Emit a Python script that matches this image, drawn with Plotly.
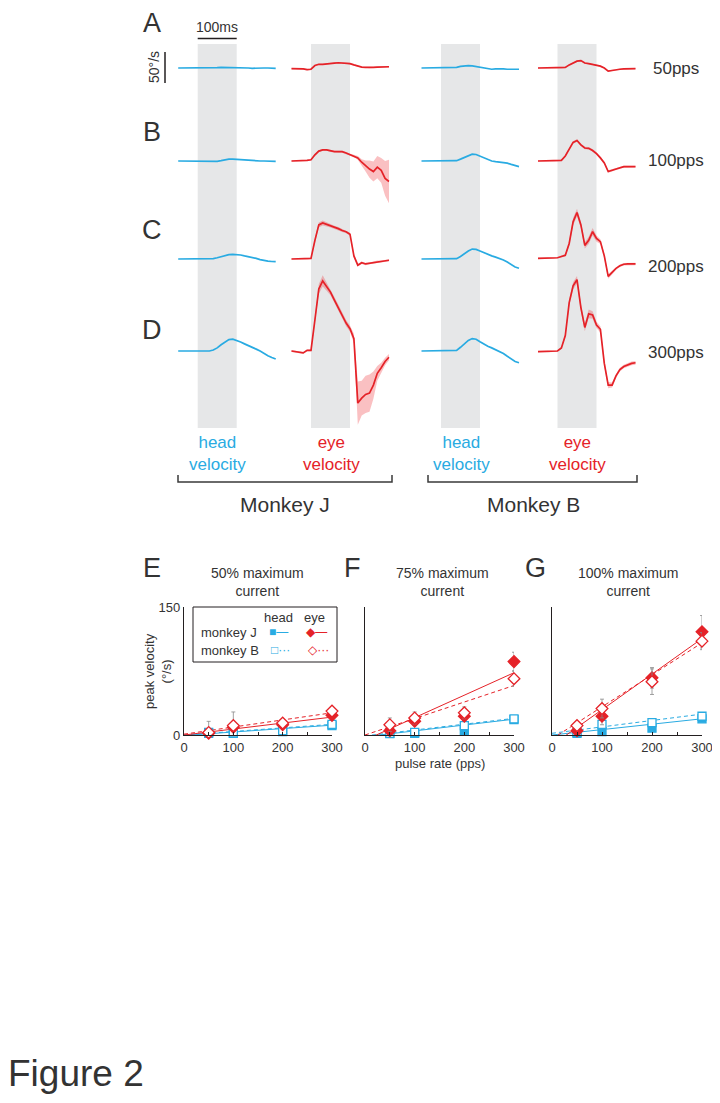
import plotly.graph_objects as go

# page body adds an 8px offset; the figure fills the rest of the 720x1103 window
OFF = 8
W, H = 720 - OFF, 1103 - OFF
FONT = "Liberation Sans, Arial, DejaVu Sans, sans-serif"
TXT = "#333333"
AX = "#231f20"
BLUE = "#29abe2"
RED = "#e52228"
BAND = "rgba(237,28,36,0.28)"
GRAY = "#e6e7e8"
ERR = "#8a8a8a"

# ---------------- time courses (deg/s), sampled every 10 ms ----------------
T_MS = [-50, -40, -30, -20, -10, 0, 10, 20, 30, 40, 50, 60, 70, 80, 90, 100,
        110, 120, 130, 140, 150, 160, 170, 180, 190, 200]

J_HEAD_50 = [0, 0, 0, 0, 0, -0.5, -0.5, 0, 0, 0, 0.5, 1, 1, 1, 0.5, 0, 0, 0, 0, -0.5, 0, 0, 0, 0, 0, -0.5]
J_HEAD_100 = [0, 0, 0, 0, 0, 0, 0, 0, -1, -1, -0.5, 0.5, 2, 3, 3, 2.5, 2, 1, 0.5, 0, 0, 0, 0, 0, -0.5, -0.5]
J_HEAD_200 = [0, 0, 0, 0, 0, 0, 0, 0, 0, 0.5, 2, 4, 6, 7, 7.5, 7.3, 6.5, 5, 4, 2.5, 1, -1, -2.5, -3.3, -4, -4.3]
J_HEAD_300 = [0, 0, 0, 0, 0, 0, 0, 0, 0, 1.5, 5, 10, 15, 18.5, 19, 17, 14.5, 11.5, 9, 6, 3, 0, -4, -7.5, -10.5, -13]

J_EYE_50 = [-1, -1, -1.5, -1.5, -2.5, -2, 4, 6, 6, 7, 7.5, 8, 8.5, 8, 8, 7, 5, 3, 1.5, 1, 0.5, 1, 1.5, 1.5, 2, 2]
J_EYE_100 = [0, 0, 0, 0.5, 1, 2, 10, 16, 18, 18, 16, 15, 15, 15, 13, 10, 8, 5, -2, -8, -13, -17, -10, -15, -28, -33]
J_EYE_200 = [0, 0, 0.5, 0, 0, 1, 30, 55, 58, 56, 54, 51, 49, 46, 44, 40, 5, -10, -6, -8, -7, -5, -4, -4, -3, -2]
J_EYE_300 = [0, -1, -2, -3, 1, 1, 50, 100, 113, 104, 95, 82, 70, 58, 45, 36, 20, -84, -76, -70, -68, -55, -36, -27, -17, -10]

J_EYE_50_SEM = [1, 1, 1, 1, 1, 1, 1, 1, 1, 1, 1, 1, 1, 1, 1, 1, 1, 1, 1, 1, 1, 1, 1, 1, 1, 1]
J_EYE_100_SEM = [1, 1, 1, 1, 1, 1, 1.5, 1.5, 1.5, 1.5, 1.5, 1.5, 1.5, 1.5, 1.5, 1.5, 2, 3, 5, 9, 14, 16, 18, 20, 28, 35]
J_EYE_200_SEM = [1, 1, 1, 1, 1, 1, 3, 4, 4, 3, 3, 2.5, 2.5, 2.5, 2.5, 2.5, 3, 2, 2, 2, 1.5, 1.5, 1.5, 1.5, 1.5, 1.5]
J_EYE_300_SEM = [1.5, 1.5, 1.5, 1.5, 1.5, 1.5, 5, 8, 9, 7, 5, 5, 5, 5, 5, 5, 8, 35, 28, 30, 30, 22, 12, 8, 6, 5]

B_HEAD_50 = [0, 0, 0, 0, 0, 0, 0, 0, 0, 1, 2.5, 3.5, 3.7, 3.5, 2.5, 1.5, 0, -1.5, -2, -1.5, -1, -1.5, -2, -2, -2, -2]
B_HEAD_100 = [0, 0, 0, 0, 0, 0, 0, 0, 0, 0.5, 3, 6, 9, 11, 10.5, 8, 5, 2, 0, -1, -1.5, -2, -3.5, -5.5, -7.5, -9]
B_HEAD_200 = [0, 0, 0, 0, 0, 0, 0, 0, 0, 0.5, 4, 9, 13, 16, 15.5, 13, 10, 7.5, 5, 3, 1, -1.5, -5, -9, -13, -15]
B_HEAD_300 = [0, 0, 0, 0, 0, 0, 0, 0, 0, 1, 6, 12, 17, 20, 19, 15, 11, 7.5, 5, 2, -1, -4, -8.5, -13, -17, -19]

B_EYE_50 = [0, 0, 0, 0, 0, 0, 0, 1, 5, 8, 11, 12, 8, 7, 6, 5, 3, 0, -5, -4, -2.5, -2, -1.5, -1, -1, -1]
B_EYE_100 = [0, 0, 0, 0, 0, 0, 1, 8, 20, 30, 33, 26, 21, 20.5, 17, 12, 5, -3, -17, -15, -12, -10, -9, -9, -9, -9]
B_EYE_200 = [1, 1, 1, 1, 1, 2, 4, 6, 25, 60, 75, 55, 22, 30, 44, 33, 28, 5, -28, -22, -15, -11, -8.5, -8, -8, -8]
B_EYE_300 = [-1, -1, -1, -1, -1, 0, 5, 25, 78, 105, 115, 70, 38, 60, 58, 42, 35, -20, -55, -55, -40, -30, -25, -22, -20, -19]

B_EYE_50_SEM = [1, 1, 1, 1, 1, 1, 1, 1, 1, 1, 1, 1, 1, 1, 1, 1, 1, 1, 1, 1, 1, 1, 1, 1, 1, 1]
B_EYE_100_SEM = [1, 1, 1, 1, 1, 1, 1, 1.5, 2, 2, 2, 2, 2, 2, 2, 2, 2, 2, 2, 2, 1.5, 1.5, 1.5, 1.5, 1.5, 1.5]
B_EYE_200_SEM = [1, 1, 1, 1, 1, 1, 1.5, 2, 4, 6, 6, 5, 5, 6, 6, 5, 4, 4, 4, 3, 2.5, 2, 2, 2, 2, 2]
B_EYE_300_SEM = [1, 1, 1, 1, 1, 1, 1.5, 3, 5, 6, 6, 6, 6, 7, 6, 5, 5, 5, 5, 4, 3, 3, 3, 3, 3, 3]

ROW_LETTERS = ["A", "B", "C", "D"]
RATE_LABELS = ["50pps", "100pps", "200pps", "300pps"]

# ---------------- peak velocity summary (deg/s) ----------------
PULSE_RATES = [50, 100, 200, 300]
FIT_X = [0, 300]

E_HEAD_J = [2, 2, 4, 11]
E_HEAD_B = [3, 2.5, 5, 12.5]
E_EYE_J = [2, 9, 12, 23]
E_EYE_B = [3, 11, 14, 28]
E_EYE_J_ERR = [2, 3, 2, 4]
E_EYE_B_ERR = [13, 16, 3, 5]
E_HEAD_ERR = [1, 1, 1, 1]
E_FIT_HEAD_J = [-0.5, 11.5]
E_FIT_HEAD_B = [0, 12.5]
E_FIT_EYE_J = [0, 21]
E_FIT_EYE_B = [1, 26]

F_HEAD_J = [1.5, 2, 5, 18]
F_HEAD_B = [2, 3, 11, 19]
F_EYE_J = [5, 16, 22, 86]
F_EYE_B = [12, 20, 26, 66]
F_EYE_J_ERR = [3, 5, 5, 11]
F_EYE_B_ERR = [8, 7, 7, 9]
F_HEAD_ERR = [1, 1, 2, 2]
F_FIT_HEAD_J = [-2, 18.5]
F_FIT_HEAD_B = [-1, 19.5]
F_FIT_EYE_J = [-6, 73]
F_FIT_EYE_B = [0, 58]

G_HEAD_J = [2, 4, 8, 19]
G_HEAD_B = [3, 12.5, 14.5, 22]
G_EYE_J = [5, 22, 67, 121]
G_EYE_B = [11, 31, 62.5, 110]
G_EYE_J_ERR = [3, 10, 12, 19]
G_EYE_B_ERR = [4, 11, 15, 10]
G_HEAD_ERR = [1, 2, 3, 2]
G_FIT_HEAD_J = [0, 19]
G_FIT_HEAD_B = [2, 24.5]
G_FIT_EYE_J = [-12, 113]
G_FIT_EYE_B = [-4.5, 108]

X_TICKS = [0, 50, 100, 150, 200, 250, 300]
X_TICK_TEXT = ["0", "", "100", "", "200", "", "300"]
PANEL_TITLES = ["50% maximum<br>current", "75% maximum<br>current", "100% maximum<br>current"]

# ---------------- geometry (window pixels) ----------------
ROW_BASE_PX = [68, 161, 259, 351]
RATE_LABEL_PX = [68, 161, 266, 353]
LETTER_PX = [23, 132, 230, 330]
COL_T0_PX = [197.7, 311, 441, 557.5]
PX_PER_MS = 0.39
PX_PER_DEG = 0.62
ROW_HALF_RANGE = [90, 130, 130, 130]


def fx(px):
    return (px - OFF) / W


def fy(py):
    return 1 - (py - OFF) / H


fig = go.Figure()
layout = {}
shapes = []
annotations = []


def ann(text, x, y, size, color=TXT, **kw):
    d = dict(text=text, x=fx(x), y=fy(y), xref="paper", yref="paper", showarrow=False,
             xanchor="center", yanchor="middle",
             font=dict(family=FONT, size=size, color=color))
    d.update(kw)
    annotations.append(d)


columns = [
    (BLUE, [J_HEAD_50, J_HEAD_100, J_HEAD_200, J_HEAD_300], None),
    (RED, [J_EYE_50, J_EYE_100, J_EYE_200, J_EYE_300],
     [J_EYE_50_SEM, J_EYE_100_SEM, J_EYE_200_SEM, J_EYE_300_SEM]),
    (BLUE, [B_HEAD_50, B_HEAD_100, B_HEAD_200, B_HEAD_300], None),
    (RED, [B_EYE_50, B_EYE_100, B_EYE_200, B_EYE_300],
     [B_EYE_50_SEM, B_EYE_100_SEM, B_EYE_200_SEM, B_EYE_300_SEM]),
]

for r in range(4):
    for c in range(4):
        i = r * 4 + c + 1
        sfx = "" if i == 1 else str(i)
        xr, yr = "x" + sfx, "y" + sfx
        t0 = COL_T0_PX[c]
        yb = ROW_BASE_PX[r]
        R = ROW_HALF_RANGE[r]
        layout["xaxis" + sfx] = dict(domain=[fx(t0 - 52 * PX_PER_MS), fx(t0 + 202 * PX_PER_MS)],
                                     range=[-52, 202], visible=False, anchor=yr, fixedrange=True,
                                     automargin=False)
        layout["yaxis" + sfx] = dict(domain=[fy(yb + R * PX_PER_DEG), fy(yb - R * PX_PER_DEG)],
                                     range=[-R, R], visible=False, anchor=xr, fixedrange=True,
                                     automargin=False)
        color, rows, sems = columns[c]
        vals = rows[r]
        if sems is not None:
            sem = sems[r]
            up = [v + s for v, s in zip(vals, sem)]
            lo = [v - s for v, s in zip(vals, sem)]
            fig.add_trace(go.Scatter(x=T_MS + T_MS[::-1], y=up + lo[::-1], fill="toself",
                                     fillcolor=BAND, line=dict(width=0), mode="lines",
                                     hoverinfo="skip", xaxis=xr, yaxis=yr))
        fig.add_trace(go.Scatter(x=T_MS, y=vals, mode="lines",
                                 line=dict(color=color, width=1.7),
                                 xaxis=xr, yaxis=yr))
        if r == 0:
            # stimulation window (0-100 ms)
            shapes.append(dict(type="rect", xref=xr, yref="paper", x0=0, x1=100,
                               y0=fy(428), y1=fy(44), fillcolor=GRAY, line=dict(width=0),
                               layer="below"))

# scale bars
shapes.append(dict(type="line", xref="x", yref="paper", x0=0, x1=100, y0=fy(38.5), y1=fy(38.5),
                   line=dict(color=AX, width=1.5)))
annotations.append(dict(text="100ms", x=50, y=fy(27), xref="x", yref="paper", showarrow=False,
                        xanchor="center", yanchor="middle",
                        font=dict(family=FONT, size=14, color=TXT)))
shapes.append(dict(type="line", xref="paper", yref="y", x0=fx(165), x1=fx(165), y0=-24, y1=26,
                   line=dict(color=AX, width=1.5)))
ann("50°/s", 154, 67, 14, textangle=-90)

for r in range(4):
    ann(ROW_LETTERS[r], 152, LETTER_PX[r], 27)
    ann(RATE_LABELS[r], 676, RATE_LABEL_PX[r], 17)

for xc in (217, 461):
    ann("head<br>velocity", xc, 454, 17, color=BLUE)
for xc in (331, 577):
    ann("eye<br>velocity", xc, 454, 17, color=RED)

for (xa, xb) in ((178, 392), (428, 637)):
    path = "M {},{} L {},{} L {},{} L {},{}".format(fx(xa), fy(475), fx(xa), fy(482),
                                                    fx(xb), fy(482), fx(xb), fy(475))
    shapes.append(dict(type="path", path=path, xref="paper", yref="paper",
                       line=dict(color="#3a3a3a", width=1.5)))
ann("Monkey J", 285, 504, 21)
ann("Monkey B", 533, 504, 21)

# ---------------- summary panels ----------------
panels = [
    (17, 184, 332, E_HEAD_J, E_HEAD_B, E_EYE_J, E_EYE_B, E_HEAD_ERR, E_EYE_J_ERR, E_EYE_B_ERR,
     E_FIT_HEAD_J, E_FIT_HEAD_B, E_FIT_EYE_J, E_FIT_EYE_B, True),
    (18, 365, 514, F_HEAD_J, F_HEAD_B, F_EYE_J, F_EYE_B, F_HEAD_ERR, F_EYE_J_ERR, F_EYE_B_ERR,
     F_FIT_HEAD_J, F_FIT_HEAD_B, F_FIT_EYE_J, F_FIT_EYE_B, False),
    (19, 552, 702, G_HEAD_J, G_HEAD_B, G_EYE_J, G_EYE_B, G_HEAD_ERR, G_EYE_J_ERR, G_EYE_B_ERR,
     G_FIT_HEAD_J, G_FIT_HEAD_B, G_FIT_EYE_J, G_FIT_EYE_B, False),
]

tickfont = dict(family=FONT, size=13, color=TXT)
for (i, x0, x1, hj, hb, ej, eb, herr, ejerr, eberr, fhj, fhb, fej, feb, ylab) in panels:
    xr, yr = "x%d" % i, "y%d" % i
    layout["xaxis%d" % i] = dict(domain=[fx(x0), fx(x1)], range=[0, 300], anchor=yr,
                                 showline=True, linecolor=AX, linewidth=1.3, ticks="inside",
                                 ticklen=3, tickwidth=1, tickcolor=AX, tickvals=X_TICKS,
                                 ticktext=X_TICK_TEXT, tickfont=tickfont, showgrid=False,
                                 zeroline=False, fixedrange=True, automargin=False)
    layout["yaxis%d" % i] = dict(domain=[fy(735), fy(607)], range=[0, 150], anchor=xr,
                                 showline=True, linecolor=AX, linewidth=1.3, ticks="inside",
                                 ticklen=3, tickwidth=1, tickcolor=AX, tickvals=[0, 150],
                                 ticktext=["0", "150"] if ylab else ["", ""], tickfont=tickfont,
                                 showgrid=False, zeroline=False, fixedrange=True, automargin=False)
    fits = [(fhj, BLUE, "solid"), (fhb, BLUE, "4px,3px"), (fej, RED, "solid"), (feb, RED, "4px,3px")]
    for fy_, col, dash in fits:
        fig.add_trace(go.Scatter(x=FIT_X, y=fy_, mode="lines", line=dict(color=col, width=1, dash=dash),
                                 xaxis=xr, yaxis=yr, hoverinfo="skip"))
    marks = [
        (hj, herr, "square", BLUE, BLUE, 8),
        (hb, herr, "square", "white", BLUE, 8),
        (ej, ejerr, "diamond", RED, RED, 9),
        (eb, eberr, "diamond", "white", RED, 9),
    ]
    for vals, err, sym, fill, edge, size in marks:
        fig.add_trace(go.Scatter(x=PULSE_RATES, y=vals, mode="markers", cliponaxis=False,
                                 marker=dict(symbol=sym, size=size, color=fill,
                                             line=dict(color=edge, width=1.3)),
                                 error_y=dict(type="data", array=err, color=ERR, thickness=0.8, width=2),
                                 xaxis=xr, yaxis=yr))

for lab, xc in zip(["E", "F", "G"], [152, 352, 535]):
    ann(lab, xc, 568, 27)
for title, xc in zip(PANEL_TITLES, [257, 442, 628]):
    ann(title, xc, 582, 14)
ann("peak velocity<br>(°/s)", 158, 671, 13, textangle=-90)
ann("pulse rate (pps)", 440, 763, 13)

# legend box inside panel E
shapes.append(dict(type="rect", xref="paper", yref="paper", x0=fx(193), x1=fx(337),
                   y0=fy(662), y1=fy(607), line=dict(color=AX, width=1)))
ann("head", 278, 617, 13)
ann("eye", 314, 617, 13)
ann("monkey J", 199, 632, 13, xanchor="left")
ann("monkey B", 199, 650, 13, xanchor="left")
ann("■—", 278, 632, 12, color=BLUE)
ann("□···", 280, 650, 12, color=BLUE)
ann("◆—", 316, 632, 12, color=RED)
ann("◇···", 318, 650, 12, color=RED)

ann("Figure 2", 6, 1073, 37, xanchor="left")

fig.update_layout(**layout)
fig.update_layout(template="none", width=W, height=H,
                  margin=dict(l=0, r=0, t=0, b=0, pad=0, autoexpand=False), showlegend=False,
                  paper_bgcolor="white", plot_bgcolor="rgba(0,0,0,0)",
                  shapes=shapes, annotations=annotations,
                  font=dict(family=FONT, color=TXT))
fig.write_html("out.html")
